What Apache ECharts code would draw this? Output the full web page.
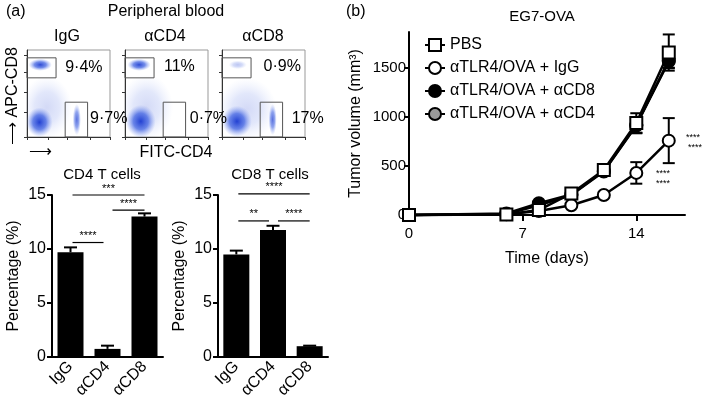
<!DOCTYPE html>
<html>
<head>
<meta charset="utf-8">
<script src="https://cdn.jsdelivr.net/npm/echarts@6/dist/echarts.min.js"></script>
<style>
  html, body { margin: 0; padding: 0; background: #fff; }
  #chart { width: 709px; height: 409px; }
</style>
</head>
<body>
<div id="chart"></div>
<script>
// ---- panel (a): flow plots (0-100 scale on both axes) ----
const flowTitles = ['IgG', 'αCD4', 'αCD8'];
// populations: [x, y, rx, ry, strength]
const flowPops = [
  [[24, 34, 30, 36, 0.2], [15, 17, 16, 17, 1], [16, 83, 14, 7, 0.95], [60, 20, 5, 18, 0.75]],
  [[26, 34, 32, 38, 0.2], [19, 18, 18, 19, 1], [17, 83, 14, 7, 0.95]],
  [[30, 32, 36, 36, 0.2], [18, 18, 18, 18, 1], [19, 83, 11, 5, 0.3], [61, 20, 5, 18, 0.75]]
];
// gates: [x1, x2, y1, y2]
const flowGates = [[0, 35, 68, 91], [46, 73, 0, 40]];
// gate percentages: [text, x, y]
const flowPct = [
  [['9·4%', 46, 80], ['9·7%', 76, 21]],
  [['11%', 47, 81], ['0·7%', 78, 21]],
  [['0·9%', 50, 81], ['17%', 84, 21]]
];
const flowTicksX = [0, 25, 49, 76, 100];
const flowTicksY = [0, 29, 52, 74, 94];

// ---- panel (a): bar charts ----
const barCats = ['IgG', 'αCD4', 'αCD8'];
const cd4Mean = [9.7, 0.75, 13.0];
const cd4Sem = [0.45, 0.3, 0.3];
const cd8Mean = [9.5, 11.75, 1.0];
const cd8Sem = [0.35, 0.4, 0.05];
// significance: [from, to, y, stars]
const cd4Sig = [[0, 2, 15, '***'], [1, 2, 13.6, '****'], [0, 1, 10.6, '****']];
const cd8Sig = [[0, 2, 15.1, '****'], [0, 1, 12.6, '**'], [1, 2, 12.6, '****']];

// ---- panel (b): tumour growth ----
const days = [0, 6, 8, 10, 12, 14, 16];
const volPBS = [0, 5, 50, 220, 460, 940, 1660];
const errPBS = [0, 0, 15, 25, 40, 100, 185];
const volIgG = [0, 8, 40, 100, 205, 430, 760];
const errIgG = [0, 0, 10, 15, 25, 110, 230];
const volCD8 = [0, 15, 120, 210, 450, 920, 1570];
const errCD8 = [0, 0, 20, 25, 35, 80, 70];
const volCD4 = [0, 10, 100, 205, 445, 915, 1580];
const errCD4 = [0, 0, 20, 25, 35, 80, 75];
const groupNames = ['PBS', 'αTLR4/OVA + IgG', 'αTLR4/OVA + αCD8', 'αTLR4/OVA + αCD4'];

const FONT = 'Liberation Sans, Arial, sans-serif';
const chart = echarts.init(document.getElementById('chart'));

function renderBlob(params, api) {
  const c = api.coord([api.value(0), api.value(1)]);
  const s = api.size([api.value(2), api.value(3)]);
  const a = api.value(4);
  return {
    type: 'circle',
    x: c[0], y: c[1],
    scaleY: s[1] / s[0],
    shape: { cx: 0, cy: 0, r: s[0] },
    style: {
      fill: new echarts.graphic.RadialGradient(0.5, 0.5, 0.5, [
        { offset: 0, color: 'rgba(35,65,210,' + a + ')' },
        { offset: 0.5, color: 'rgba(60,95,225,' + (a * 0.75) + ')' },
        { offset: 1, color: 'rgba(130,155,240,0)' }
      ])
    }
  };
}

function renderGate(params, api) {
  const p1 = api.coord([api.value(0), api.value(3)]);
  const p2 = api.coord([api.value(1), api.value(2)]);
  return {
    type: 'rect',
    shape: { x: p1[0], y: p1[1], width: p2[0] - p1[0], height: p2[1] - p1[1] },
    style: { fill: 'none', stroke: '#555', lineWidth: 1 }
  };
}

function errorRenderer(cap, both) {
  return function (params, api) {
    const x = api.value(0);
    const lo = api.coord([x, api.value(1)]);
    const hi = api.coord([x, api.value(2)]);
    const st = { stroke: '#000', lineWidth: 2 };
    const kids = [
      { type: 'line', shape: { x1: lo[0], y1: lo[1], x2: hi[0], y2: hi[1] }, style: st },
      { type: 'line', shape: { x1: hi[0] - cap / 2, y1: hi[1], x2: hi[0] + cap / 2, y2: hi[1] }, style: st }
    ];
    if (both) {
      kids.push({ type: 'line', shape: { x1: lo[0] - cap / 2, y1: lo[1], x2: lo[0] + cap / 2, y2: lo[1] }, style: st });
    }
    return { type: 'group', children: kids };
  };
}

function sigRenderer(sig) {
  return function (params, api) {
    const s = sig[params.dataIndex];
    const a = api.coord([s[0], s[2]]);
    const b = api.coord([s[1], s[2]]);
    const x1 = a[0] + (s[0] === 1 ? 5 : 2);
    const x2 = b[0] - (s[1] === 1 ? 4 : 0);
    return {
      type: 'group',
      children: [
        { type: 'line', shape: { x1: x1, y1: a[1], x2: x2, y2: a[1] }, style: { stroke: '#000', lineWidth: 1.2 } },
        { type: 'text', x: (x1 + x2) / 2, y: a[1] - 1, style: { text: s[3], fontSize: 11, fontFamily: FONT, fill: '#000', align: 'center', verticalAlign: 'bottom' } }
      ]
    };
  };
}

const grids = [];
const xAxes = [];
const yAxes = [];
const series = [];

// flow plots
[27, 125, 222].forEach(function (left, i) {
  grids.push({ left: left, top: 50, width: 83, height: 87, show: true, borderColor: '#999', borderWidth: 1, backgroundColor: '#fff' });
  xAxes.push({
    gridIndex: i, type: 'value', min: 0, max: 100,
    axisLine: { lineStyle: { color: '#333', width: 1 } },
    axisTick: { customValues: flowTicksX, length: 3, lineStyle: { color: '#333' } },
    axisLabel: { show: false }, splitLine: { show: false }
  });
  yAxes.push({
    gridIndex: i, type: 'value', min: 0, max: 100,
    axisLine: { show: true, lineStyle: { color: '#333', width: 1 } },
    axisTick: { show: true, customValues: flowTicksY, length: 3, lineStyle: { color: '#333' } },
    axisLabel: { show: false }, splitLine: { show: false }
  });
  series.push({
    type: 'custom', xAxisIndex: i, yAxisIndex: i, clip: true, silent: true,
    renderItem: renderBlob, data: flowPops[i]
  });
  series.push({
    type: 'custom', xAxisIndex: i, yAxisIndex: i, silent: true, z: 3,
    renderItem: renderGate, data: flowGates
  });
  series.push({
    type: 'custom', xAxisIndex: i, yAxisIndex: i, silent: true, z: 4, clip: false,
    renderItem: function (params, api) {
      const lab = flowPct[i][params.dataIndex];
      const c = api.coord([lab[1], lab[2]]);
      return { type: 'text', x: c[0], y: c[1], style: { text: lab[0], fontSize: 16, fontFamily: FONT, fill: '#000', align: 'left', verticalAlign: 'middle' } };
    },
    data: flowPct[i].map(function (l) { return [l[1], l[2]]; })
  });
});

// bar charts
[[52, 111, cd4Mean, cd4Sem, cd4Sig], [218, 110, cd8Mean, cd8Sem, cd8Sig]].forEach(function (b, k) {
  const gi = 3 + k;
  grids.push({ left: b[0], top: 195, width: b[1], height: 162 });
  xAxes.push({
    gridIndex: gi, type: 'category', data: barCats,
    axisLine: { lineStyle: { color: '#000', width: 2 } },
    axisTick: { alignWithLabel: true, length: 5, lineStyle: { color: '#000', width: 2 } },
    axisLabel: { rotate: 45, margin: 7, fontSize: 16, color: '#000', fontFamily: FONT }
  });
  yAxes.push({
    gridIndex: gi, type: 'value', min: 0, max: 15, interval: 5,
    name: 'Percentage (%)', nameLocation: 'middle', nameGap: 30,
    nameTextStyle: { fontSize: 16, color: '#000', fontFamily: FONT },
    axisLine: { show: true, lineStyle: { color: '#000', width: 2 } },
    axisTick: { show: true, length: 5, lineStyle: { color: '#000', width: 2 } },
    axisLabel: { fontSize: 16, color: '#000', margin: 6, fontFamily: FONT },
    splitLine: { show: false }
  });
  series.push({
    type: 'bar', xAxisIndex: gi, yAxisIndex: gi, data: b[2], barWidth: 26,
    itemStyle: { color: '#000' }, silent: true
  });
  series.push({
    type: 'custom', xAxisIndex: gi, yAxisIndex: gi, silent: true, z: 3,
    renderItem: errorRenderer(13, false),
    data: b[2].map(function (m, j) { return [j, m, m + b[3][j]]; })
  });
  series.push({
    type: 'custom', xAxisIndex: gi, yAxisIndex: gi, silent: true, clip: false, z: 3,
    renderItem: sigRenderer(b[4]),
    data: b[4].map(function (s) { return [s[0], s[2]]; })
  });
});

// tumour growth chart
grids.push({ left: 409, top: 32, width: 276, height: 183 });
xAxes.push({
  gridIndex: 5, type: 'value', min: 0, max: 17,
  name: 'Time (days)', nameLocation: 'middle', nameGap: 36,
  nameTextStyle: { fontSize: 16, color: '#000', fontFamily: FONT },
  axisLine: { lineStyle: { color: '#000', width: 2 } },
  axisTick: { customValues: [0, 7, 14], length: 6, lineStyle: { color: '#000', width: 2 } },
  axisLabel: { customValues: [0, 7, 14], fontSize: 15, color: '#000', margin: 11, fontFamily: FONT },
  splitLine: { show: false }
});
yAxes.push({
  gridIndex: 5, type: 'value', min: 0, max: 1870,
  name: 'Tumor volume (mm³)', nameLocation: 'middle', nameGap: 45,
  nameTextStyle: { fontSize: 16, color: '#000', fontFamily: FONT },
  axisLine: { show: true, lineStyle: { color: '#000', width: 2 } },
  axisTick: { show: true, customValues: [0, 500, 1000, 1500], length: 5, lineStyle: { color: '#000', width: 2 } },
  axisLabel: {
    customValues: [0, 500, 1000, 1500], fontSize: 15, color: '#000', margin: 3, fontFamily: FONT,
    formatter: function (v) { return String(v); }
  },
  splitLine: { show: false }
});

const groups = [
  [groupNames[3], volCD4, errCD4, 'circle', '#999'],
  [groupNames[2], volCD8, errCD8, 'circle', '#000'],
  [groupNames[1], volIgG, errIgG, 'circle', '#fff'],
  [groupNames[0], volPBS, errPBS, 'rect', '#fff']
];
groups.forEach(function (g, k) {
  series.push({
    type: 'custom', xAxisIndex: 5, yAxisIndex: 5, silent: true, clip: false, z: 2,
    renderItem: errorRenderer(12, true),
    data: days.map(function (d, j) { return [d, g[1][j] - g[2][j], g[1][j] + g[2][j]]; })
      .filter(function (r, j) { return g[2][j] > 0; })
  });
  series.push({
    name: g[0], type: 'line', xAxisIndex: 5, yAxisIndex: 5, clip: false, z: 3 + k,
    data: days.map(function (d, j) { return [d, g[1][j]]; }),
    symbol: g[3], symbolSize: 12, showAllSymbol: true,
    lineStyle: { color: '#000', width: 2.5 },
    itemStyle: { color: g[4], borderColor: '#000', borderWidth: 2, opacity: 1 }
  });
});

function txt(t, x, y, size, align, extra) {
  return Object.assign({
    type: 'text', x: x, y: y,
    style: { text: t, fontSize: size, fontFamily: FONT, fill: '#000', align: align || 'center', verticalAlign: 'middle' }
  }, extra || {});
}

const graphics = [
  txt('(a)', 6, 12, 16, 'left'),
  txt('(b)', 346, 12, 16, 'left'),
  txt('Peripheral blood', 166, 12, 16),
  txt(flowTitles[0], 67, 37, 16),
  txt(flowTitles[1], 165, 37, 16),
  txt(flowTitles[2], 263, 37, 16),
  txt('FITC-CD4', 176, 153, 16),
  txt('⟶', 40, 152, 16),
  txt('⟶ APC-CD8', 13, 96, 16, 'center', { rotation: Math.PI / 2 }),
  txt('CD4 T cells', 102, 175, 15),
  txt('CD8 T cells', 270, 175, 15),
  txt('EG7-OVA', 542, 17, 15),
  txt('****', 693, 138, 9),
  txt('****', 695, 148, 9),
  txt('****', 663, 174, 9),
  txt('****', 663, 184, 9)
];

const option = {
  backgroundColor: '#fff',
  animation: false,
  textStyle: { fontFamily: FONT },
  grid: grids,
  xAxis: xAxes,
  yAxis: yAxes,
  legend: {
    data: groupNames,
    orient: 'vertical',
    left: 419, top: 32,
    itemWidth: 20, itemHeight: 15, itemGap: 7,
    textStyle: { fontSize: 16, color: '#000', fontFamily: FONT },
    selectedMode: false
  },
  graphic: graphics,
  series: series
};

chart.setOption(option);
</script>
</body>
</html>
